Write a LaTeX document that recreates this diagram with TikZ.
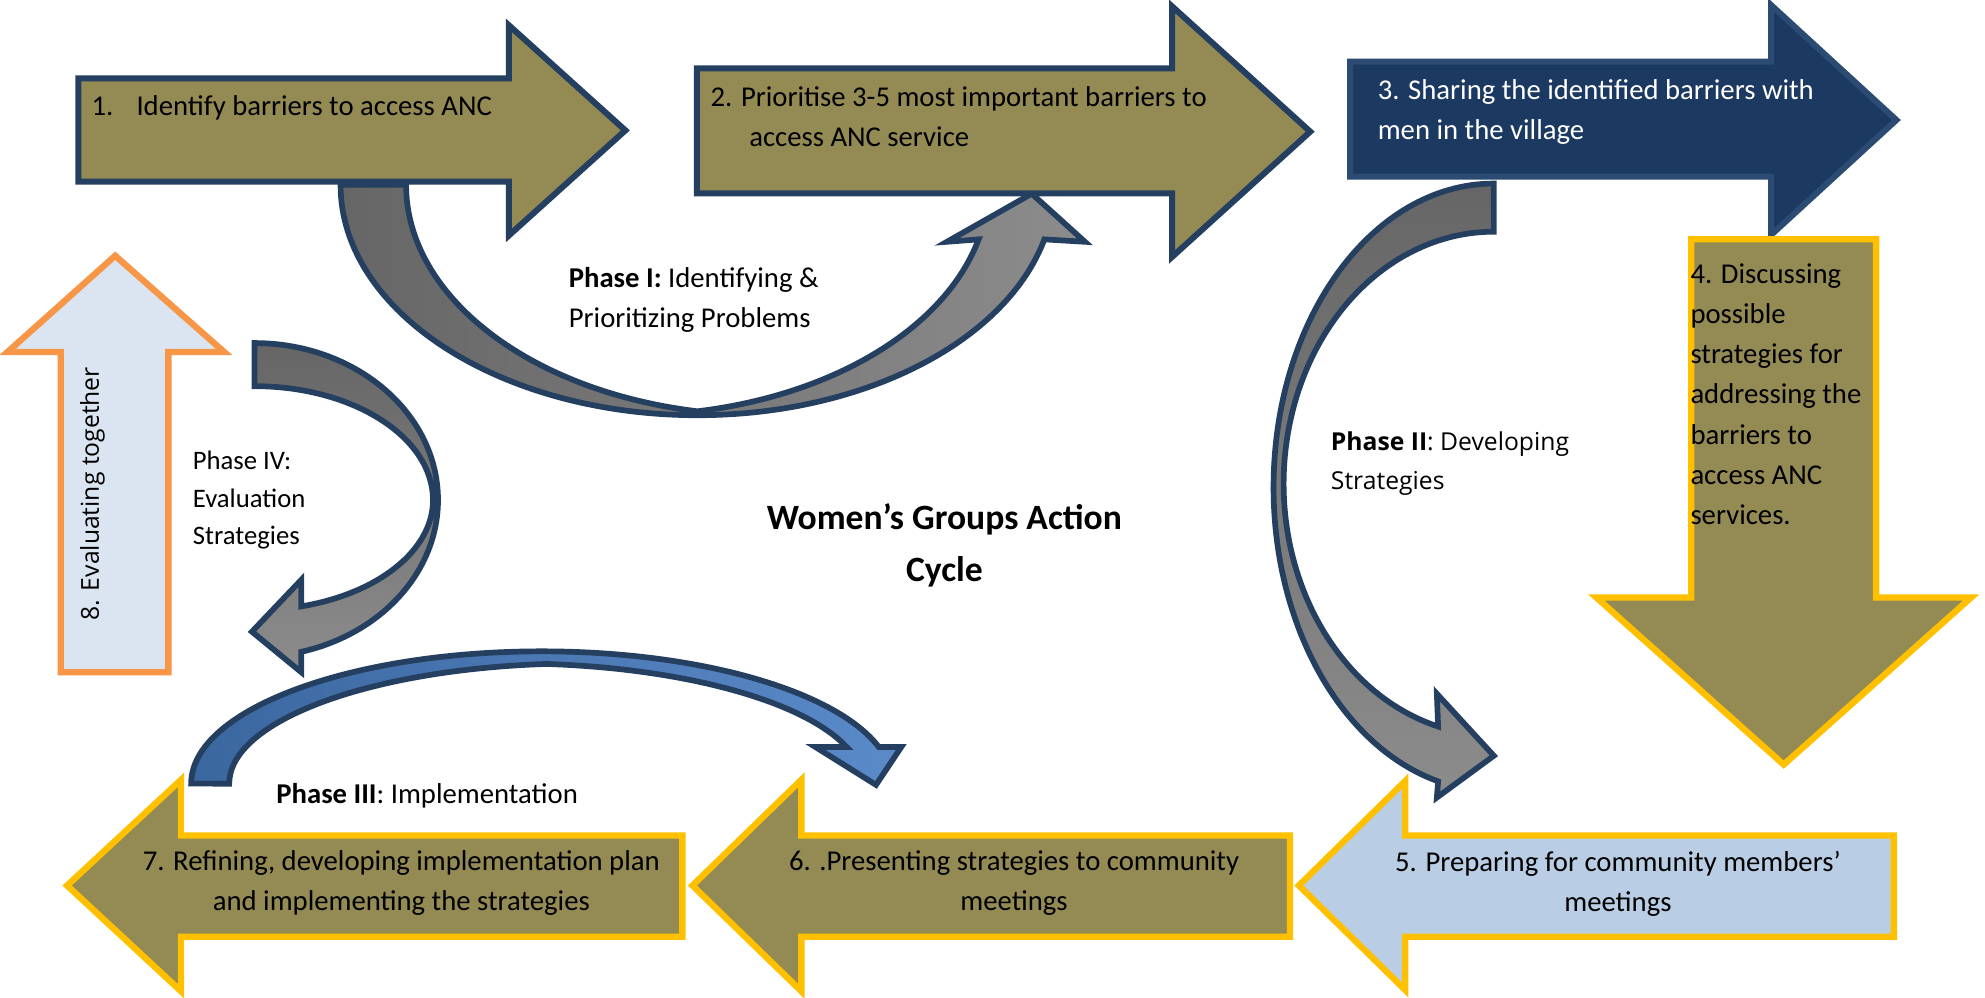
\documentclass[tikz,border=0pt]{standalone}
\usepackage{fontspec}
\setmainfont{Carlito}
\newfontfamily\segoe{Open Sans}
\usepackage{xcolor}
\usetikzlibrary{positioning}
\definecolor{olivefill}{HTML}{948A54}
\definecolor{navyline}{HTML}{243F60}
\definecolor{navyfill}{HTML}{1C3961}
\definecolor{navyrim}{HTML}{2B4B73}
\definecolor{goldline}{HTML}{FFC000}
\definecolor{paleblue}{HTML}{B9CDE5}
\definecolor{iceblue}{HTML}{DBE5F1}
\definecolor{evalorange}{HTML}{F79646}
\definecolor{bandgrayA}{HTML}{666666}
\definecolor{bandgrayB}{HTML}{8C8C8C}
\definecolor{bandblueA}{HTML}{3B679F}
\definecolor{bandblueB}{HTML}{5A8AC8}

\begin{document}
\begin{tikzpicture}[x=0.2mm,y=-0.2mm,
  every node/.style={font=\fontsize{12.9}{18}\selectfont,inner sep=0pt,align=left},
  navyarrow/.style ={fill=olivefill,draw=navyline,line width=0.95mm},
  goldarrow/.style ={fill=olivefill,draw=goldline,line width=1mm},
  grayband/.style  ={draw=navyline,line width=0.9mm,left color=bandgrayA,right color=bandgrayB},
  blueband/.style  ={draw=navyline,line width=0.9mm,left color=bandblueA,right color=bandblueB},
  boxtext/.style   ={anchor=base west},
  midtext/.style   ={anchor=base,align=center},
  phase/.style     ={anchor=base west},
]
\path[use as bounding box,fill=white] (0,0) rectangle (1568,788);

% curved phase arrows
\draw[grayband] (269,146) arc[start angle=180,end angle=13.7,x radius=282,y radius=182]
  -- (857,191) -- (815,153) -- (748,191) -- (773,189.1)
  arc[start angle=13.7,end angle=79.4,x radius=282,y radius=182]
  arc[start angle=100.6,end angle=180,x radius=282,y radius=182] -- cycle;
\draw[grayband,top color=bandgrayA,bottom color=bandgrayB] (1180,145)
  arc[start angle=270,end angle=104.65,x radius=174,y radius=240]
  -- (1135,630) -- (1180,597) -- (1135,548) -- (1136,573.9)
  arc[start angle=105.37,end angle=270,x radius=166,y radius=199] -- cycle;
\draw[grayband,top color=bandgrayA,bottom color=bandgrayB] (201,271)
  arc[start angle=-90,end angle=75.2,x radius=145,y radius=124]
  -- (238,531) -- (199,499) -- (238,458) -- (238,479)
  arc[start angle=74.8,end angle=0,x radius=141,y radius=87]
  arc[start angle=0,end angle=-90,x radius=141,y radius=90] -- cycle;
\draw[blueband] (151,619) arc[start angle=180,end angle=343.9,x radius=277,y radius=104.5]
  -- (712,590) -- (692,620) -- (644,590) -- (668.7,590)
  arc[start angle=342.2,end angle=275.5,x radius=277,y radius=95]
  arc[start angle=264.5,end angle=180,x radius=277,y radius=95] -- cycle;

% block arrows
\draw[navyarrow] (62,62) -- (402,62) -- (402,20) -- (494,103) -- (402,186) -- (402,143.5) -- (62,143.5) -- cycle;
\draw[navyarrow] (550.5,54) -- (925.8,54) -- (925.8,5) -- (1035,104) -- (925.8,203) -- (925.8,152.7) -- (550.5,152.7) -- cycle;
\draw[navyarrow,fill=navyfill,draw=navyrim] (1066.5,48.7) -- (1399,48.7) -- (1399,4) -- (1498,94.8) -- (1399,185.6) -- (1399,139.6) -- (1066.5,139.6) -- cycle;
\draw[goldarrow] (1336,189) -- (1482,189) -- (1482,472) -- (1557,472) -- (1409,604) -- (1261,472) -- (1336,472) -- cycle;
\draw[goldarrow,fill=paleblue] (1496,660) -- (1496,740) -- (1110,740) -- (1110,782) -- (1026,699.5) -- (1110,617) -- (1110,660) -- cycle;
\draw[goldarrow] (1019,660) -- (1019,740) -- (633,740) -- (633,783) -- (547,699.5) -- (633,616) -- (633,660) -- cycle;
\draw[goldarrow] (539,660) -- (539,740) -- (143,740) -- (143,783) -- (53,699.5) -- (143,616) -- (143,660) -- cycle;
\draw[goldarrow,fill=iceblue,draw=evalorange] (48,531) -- (48,278) -- (6,278) -- (91,202) -- (177,278) -- (133,278) -- (133,531) -- cycle;

% texts (multi-line nodes sit on their last baseline)
\node[boxtext] (step1) at (72,91) {\makebox[7.1mm][l]{1.}Identify barriers to access ANC};
\node[boxtext] (step2) at (561,115.5) {2. Prioritise 3-5 most important barriers to\\\hspace*{6.1mm}access ANC service};
\node[boxtext,text=white] (step3) at (1088,110.5) {3. Sharing the identified barriers with\\men in the village};
\node[boxtext] (step4) at (1335,414) {4. Discussing\\possible\\strategies for\\addressing the\\barriers to\\access ANC\\services.};
\node[midtext] (step5) at (1278,720) {5. Preparing for community members'\\meetings};
\node[midtext] (step6) at (801,719) {6. .Presenting strategies to community\\meetings};
\node[midtext] (step7) at (317,719) {7. Refining, developing implementation plan\\and implementing the strategies};
\node[rotate=90,font=\segoe\fontsize{11.1}{14}\selectfont] (step8) at (73,390) {8. Evaluating together};

\node[phase] (ph1) at (449,259) {\textbf{Phase I:} Identifying \&\\Prioritizing Problems};
\node[phase,font=\segoe\fontsize{11.1}{17.6}\selectfont] (ph2) at (1051,387) {\textbf{Phase II}: Developing\\Strategies};
\node[phase] (ph3) at (218,635) {\textbf{Phase III}: Implementation};
\node[phase,font=\fontsize{12}{16.9}\selectfont] (ph4) at (152,430.5) {Phase IV:\\Evaluation\\Strategies};
\node[midtext,font=\bfseries\fontsize{16}{23.3}\selectfont] (title) at (746,459) {Women's Groups Action\\Cycle};
\end{tikzpicture}
\end{document}
